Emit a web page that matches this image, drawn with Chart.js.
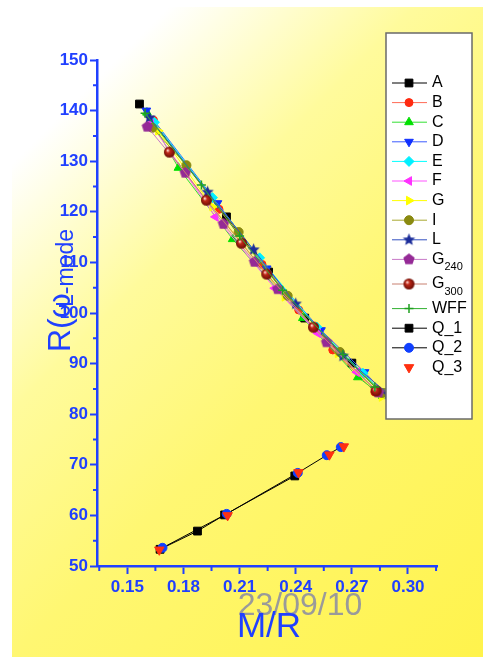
<!DOCTYPE html>
<html>
<head>
<meta charset="utf-8">
<script src="https://cdn.jsdelivr.net/npm/chart.js"></script>
<style>
  html, body { margin: 0; padding: 0; background: #fff; }
  #wrap { position: relative; width: 483px; height: 664px; overflow: hidden; }
  #bg {
    position: absolute; left: 12px; top: 7px; width: 471px; height: 650px;
    background: linear-gradient(135deg, #ffffff 14%, #fffb9c 36%, #fff772 58%, #fff34c 100%);
  }
  canvas { position: absolute; left: 0; top: 0; }
</style>
</head>
<body>
<div id="wrap">
  <div id="bg"></div>
  <canvas id="chart" width="483" height="664"></canvas>
</div>
<script>
// 資料
const seriesNames = ["A", "B", "C", "D", "E", "F", "G", "I", "L", "G240", "G300", "WFF", "Q_1", "Q_2", "Q_3"];

const A_x = [0.1565, 0.203, 0.2255, 0.2448, 0.270, 0.2865];
const A_y = [141.3, 119.0, 108.1, 99.0, 90.1, 84.2];
const B_x = [0.164, 0.199, 0.222, 0.2416, 0.2598, 0.2823];
const B_y = [138.1, 120.5, 109.6, 100.6, 92.7, 84.4];
const C_x = [0.1605, 0.1773, 0.2063, 0.2438, 0.2732, 0.2865];
const C_y = [139.6, 128.7, 114.6, 99.0, 87.3, 83.6];
const D_x = [0.1602, 0.1982, 0.2245, 0.2535, 0.2768, 0.2895];
const D_y = [140.0, 121.7, 108.8, 96.6, 88.3, 83.4];
const E_x = [0.1645, 0.1955, 0.2207, 0.2513, 0.2759, 0.2875];
const E_y = [137.7, 122.8, 110.9, 97.2, 88.1, 84.0];
const F_x = [0.1625, 0.1971, 0.2288, 0.2518, 0.2727, 0.2845];
const F_y = [137.4, 119.0, 104.9, 96.0, 88.3, 84.0];
const G_x = [0.1665, 0.1955, 0.2341, 0.2625, 0.2860];
const G_y = [136.0, 121.0, 103.2, 92.0, 83.4];
const I_x = [0.1634, 0.1816, 0.2095, 0.2357, 0.2636, 0.2862];
const I_y = [136.6, 129.2, 116.0, 103.4, 92.3, 84.2];
const L_x = [0.1618, 0.1929, 0.2175, 0.2400, 0.2652, 0.2895];
const L_y = [138.6, 123.9, 112.5, 101.8, 91.5, 84.0];
const G240_x = [0.1607, 0.181, 0.2014, 0.218, 0.2304, 0.2565, 0.2842];
const G240_y = [136.8, 127.7, 117.6, 110.1, 104.7, 94.2, 84.3];
const G300_x = [0.1725, 0.1923, 0.211, 0.2245, 0.2495, 0.2830];
const G300_y = [131.8, 122.3, 113.8, 107.7, 97.2, 84.6];
const WFF_x = [0.1595, 0.1896, 0.2100, 0.2330, 0.2652, 0.2823];
const WFF_y = [139.5, 125.3, 115.2, 104.5, 91.8, 85.4];
const Q1_x = [0.1675, 0.1875, 0.2020, 0.2395];
const Q1_y = [53.3, 56.9, 60.1, 67.8];
const Q2_x = [0.1688, 0.2031, 0.2411, 0.2566, 0.2641];
const Q2_y = [53.6, 60.3, 68.4, 71.9, 73.5];
const Q3_x = [0.1671, 0.2036, 0.2415, 0.2580, 0.2657];
const Q3_y = [53.2, 60.0, 68.5, 72.0, 73.6];

const seriesX = [A_x, B_x, C_x, D_x, E_x, F_x, G_x, I_x, L_x, G240_x, G300_x, WFF_x, Q1_x, Q2_x, Q3_x];
const seriesY = [A_y, B_y, C_y, D_y, E_y, F_y, G_y, I_y, L_y, G240_y, G300_y, WFF_y, Q1_y, Q2_y, Q3_y];

// 刻度
const xTicks = [0.15, 0.18, 0.21, 0.24, 0.27, 0.30];
const xMinor = [0.135, 0.165, 0.195, 0.225, 0.255, 0.285, 0.315];
const yTicks = [50, 60, 70, 80, 90, 100, 110, 120, 130, 140, 150];
const yMinor = [55, 65, 75, 85, 95, 105, 115, 125, 135, 145];

const xTitle = "M/R";
const dateText = "23/09/10";

const blue = "#2040ff";
const fontFamily = "'Liberation Sans', Arial, sans-serif";

// 自訂 marker
function makeShape(color, r, n, inner) {
  const c = document.createElement("canvas");
  const s = Math.ceil(r * 2 + 2);
  c.width = c.height = s;
  const g = c.getContext("2d");
  g.fillStyle = color;
  g.beginPath();
  const steps = inner ? n * 2 : n;
  for (let i = 0; i < steps; i++) {
    const a = -Math.PI / 2 + (i * 2 * Math.PI) / steps;
    const rr = inner && i % 2 ? r * inner : r;
    g.lineTo(s / 2 + rr * Math.cos(a), s / 2 + rr * Math.sin(a));
  }
  g.closePath();
  g.fill();
  return c;
}

function makeSphere(r) {
  const c = document.createElement("canvas");
  const s = Math.ceil(r * 2 + 2);
  c.width = c.height = s;
  const g = c.getContext("2d");
  const grad = g.createRadialGradient(s / 2 - r * 0.35, s / 2 - r * 0.35, 0.5, s / 2, s / 2, r);
  grad.addColorStop(0, "#ffd8d0");
  grad.addColorStop(0.3, "#c02818");
  grad.addColorStop(1, "#6a0c04");
  g.fillStyle = grad;
  g.beginPath();
  g.arc(s / 2, s / 2, r, 0, Math.PI * 2);
  g.fill();
  return c;
}

const starImg = makeShape("#1c2d9a", 6.5, 5, 0.45);
const pentaImg = makeShape("#952a96", 6, 5, 0);
const sphereImg = makeShape ? makeSphere(5.5) : null;

// 樣式
const styles = [
  { line: "#000000", fill: "#000000", style: "rect", r: 5.5 },
  { line: "#ff6a55", fill: "#ff2a10", style: "circle", r: 4 },
  { line: "#33e033", fill: "#00e000", style: "triangle", r: 5 },
  { line: "#3c5cff", fill: "#1030ff", style: "triangle", r: 5, rot: 180 },
  { line: "#00ffff", fill: "#00f0ff", style: "rectRot", r: 5 },
  { line: "#ff55ff", fill: "#ff30ff", style: "triangle", r: 5, rot: 270 },
  { line: "#ffff00", fill: "#ffff00", style: "triangle", r: 5, rot: 90 },
  { line: "#a8a830", fill: "#8a8a10", style: "circle", r: 4.5 },
  { line: "#3350c0", fill: "#1c2d9a", style: starImg, r: 6 },
  { line: "#c878c8", fill: "#952a96", style: pentaImg, r: 6 },
  { line: "#c88070", fill: "#a01010", style: sphereImg, r: 5.5 },
  { line: "#30b030", fill: "#20a020", style: "cross", r: 4.5, bw: 1.5 },
  { line: "#000000", fill: "#000000", style: "rect", r: 5.5 },
  { line: "#000000", fill: "#1040ff", style: "circle", r: 4.5 },
  { line: null, fill: "#ff3010", style: "triangle", r: 5.5, rot: 180 },
];

const datasets = seriesNames.map((name, i) => {
  const st = styles[i];
  return {
    label: name,
    data: seriesX[i].map((x, k) => ({ x, y: seriesY[i][k] })),
    showLine: st.line !== null,
    borderColor: st.line || st.fill,
    borderWidth: 1,
    pointStyle: st.style,
    pointRotation: st.rot || 0,
    pointRadius: st.r,
    pointBackgroundColor: st.fill,
    pointBorderColor: st.fill,
    pointBorderWidth: st.bw || 1,
    order: seriesNames.length - i,
  };
});

// 次刻度
const minorTicks = {
  id: "minorTicks",
  afterDraw(chart) {
    const { ctx, chartArea: a } = chart;
    const sx = chart.scales.x;
    const sy = chart.scales.y;
    ctx.save();
    ctx.strokeStyle = blue;
    ctx.lineWidth = 2;
    ctx.beginPath();
    xMinor.forEach((v) => {
      const px = sx.getPixelForValue(v);
      ctx.moveTo(px, a.bottom);
      ctx.lineTo(px, a.bottom + 5);
    });
    yMinor.forEach((v) => {
      const py = sy.getPixelForValue(v);
      ctx.moveTo(a.left, py);
      ctx.lineTo(a.left - 4, py);
    });
    ctx.stroke();
    ctx.restore();
  },
};

// 標題
const titles = {
  id: "titles",
  afterDraw(chart) {
    const ctx = chart.ctx;
    ctx.save();
    ctx.textBaseline = "alphabetic";
    ctx.textAlign = "center";
    ctx.fillStyle = "#9a9a9a";
    ctx.font = "32px " + fontFamily;
    ctx.fillText(dateText, 300, 615);
    ctx.fillStyle = blue;
    ctx.font = "35px " + fontFamily;
    ctx.fillText(xTitle, 269, 637);

    ctx.textAlign = "left";
    ctx.save();
    ctx.translate(70, 352);
    ctx.rotate(-Math.PI / 2);
    ctx.font = "32px " + fontFamily;
    ctx.fillText("R(\u03c9", 0, 0);
    ctx.restore();
    ctx.save();
    ctx.translate(73, 307);
    ctx.rotate(-Math.PI / 2);
    ctx.font = "23px " + fontFamily;
    ctx.fillText("L-mode", 0, 0);
    ctx.restore();
    ctx.restore();
  },
};

// 圖例
const legendBox = {
  id: "legendBox",
  afterDraw(chart) {
    const ctx = chart.ctx;
    ctx.save();
    ctx.fillStyle = "#ffffff";
    ctx.fillRect(386, 33, 86, 386);
    ctx.strokeStyle = "#6a6a6a";
    ctx.lineWidth = 1.5;
    ctx.strokeRect(386, 33, 86, 386);

    let y = 83;
    chart.data.datasets.forEach((ds) => {
      if (ds.showLine) {
        ctx.strokeStyle = ds.borderColor;
        ctx.lineWidth = 1;
        ctx.beginPath();
        ctx.moveTo(392, y);
        ctx.lineTo(427, y);
        ctx.stroke();
      }
      ctx.fillStyle = ds.pointBackgroundColor;
      ctx.strokeStyle = ds.pointBorderColor;
      ctx.lineWidth = ds.pointBorderWidth;
      Chart.helpers.drawPoint(
        ctx,
        {
          pointStyle: ds.pointStyle,
          rotation: ds.pointRotation,
          radius: ds.pointRadius,
          borderWidth: ds.pointBorderWidth,
        },
        409,
        y
      );

      const m = ds.label.match(/^(G)(\d+)$/);
      ctx.fillStyle = "#000";
      ctx.textBaseline = "middle";
      ctx.textAlign = "left";
      ctx.font = "16px " + fontFamily;
      if (m) {
        ctx.fillText(m[1], 432, y);
        const w = ctx.measureText(m[1]).width;
        ctx.font = "11px " + fontFamily;
        ctx.fillText(m[2], 432 + w, y + 8);
        y += 24.6;
      } else {
        ctx.fillText(ds.label, 432, y);
        y += 19.6;
      }
    });
    ctx.restore();
  },
};

const tickFont = { family: fontFamily, size: 17, weight: "bold" };

new Chart(document.getElementById("chart"), {
  type: "line",
  data: { datasets },
  options: {
    responsive: false,
    animation: false,
    devicePixelRatio: 1,
    layout: { padding: { left: 0, top: 60, right: 46, bottom: 0 } },
    plugins: {
      legend: { display: false },
      tooltip: { enabled: false },
    },
    scales: {
      x: {
        type: "linear",
        min: 0.1338,
        max: 0.3155,
        afterBuildTicks: (s) => {
          s.ticks = xTicks.map((v) => ({ value: v }));
        },
        afterFit: (s) => {
          s.height = 98;
        },
        border: { color: blue, width: 2.5 },
        grid: {
          drawOnChartArea: false,
          drawTicks: true,
          tickLength: 8,
          tickColor: blue,
          tickWidth: 2,
        },
        ticks: {
          color: blue,
          font: tickFont,
          padding: 3,
          autoSkip: false,
          maxRotation: 0,
          callback: (v) => Number(v).toFixed(2),
        },
      },
      y: {
        type: "linear",
        min: 50,
        max: 150,
        afterBuildTicks: (s) => {
          s.ticks = yTicks.map((v) => ({ value: v }));
        },
        afterFit: (s) => {
          s.width = 97;
        },
        border: { color: blue, width: 2.5 },
        grid: {
          drawOnChartArea: false,
          drawTicks: true,
          tickLength: 7,
          tickColor: blue,
          tickWidth: 2,
        },
        ticks: {
          color: blue,
          font: tickFont,
          padding: 2,
          autoSkip: false,
          callback: (v) => String(v),
        },
      },
    },
  },
  plugins: [minorTicks, titles, legendBox],
});
</script>
</body>
</html>
